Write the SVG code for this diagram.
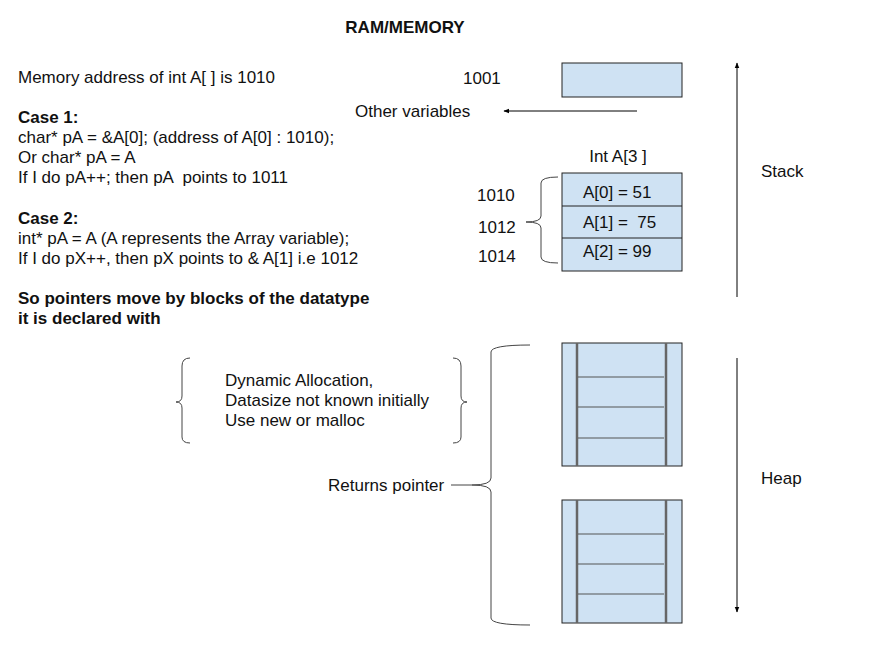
<svg xmlns="http://www.w3.org/2000/svg" width="880" height="660" viewBox="0 0 880 660">
<style>
text{font-family:"Liberation Sans",Arial,sans-serif;font-size:17px;fill:#111;white-space:pre}
.b{font-weight:bold}
.t{font-size:17px;font-weight:bold}
.box{fill:#cfe2f3;stroke:#222;stroke-width:1}
.div{stroke:#222;stroke-width:1}
.gv{stroke:#666;stroke-width:2.5}
.gh{stroke:#555;stroke-width:1.2}
.ln{fill:none;stroke:#000;stroke-width:1}
.br{fill:none;stroke:#444;stroke-width:1}
</style>
<defs>
<marker id="ah" viewBox="0 0 10 10" refX="9" refY="5" markerWidth="6" markerHeight="6" orient="auto">
<path d="M0,1 L10,5 L0,9 z" fill="#000"/>
</marker>
</defs>
<rect width="880" height="660" fill="#fff"/>
<text class="t" x="405" y="33" text-anchor="middle">RAM/MEMORY</text>
<g id="notes">
<text x="18" y="83">Memory address of int A[ ] is 1010</text>
<text x="18" y="123" class="b">Case 1:</text>
<text x="18" y="143">char* pA = &amp;A[0]; (address of A[0] : 1010);</text>
<text x="18" y="163">Or char* pA = A</text>
<text x="18" y="183" xml:space="preserve">If I do pA++; then pA  points to 1011</text>
<text x="18" y="224" class="b">Case 2:</text>
<text x="18" y="244">int* pA = A (A represents the Array variable);</text>
<text x="18" y="264">If I do pX++, then pX points to &amp; A[1] i.e 1012</text>
<text x="18" y="304" class="b">So pointers move by blocks of the datatype</text>
<text x="18" y="324" class="b">it is declared with</text>
</g>
<g id="var1001">
<text x="463" y="84">1001</text>
<rect class="box" x="562" y="63" width="120" height="34"/>
</g>
<g id="other">
<text x="355" y="117">Other variables</text>
</g>
<g id="array">
<text x="618" y="162" text-anchor="middle">Int A[3 ]</text>
<rect class="box" x="562" y="173" width="120" height="98"/>
<line class="div" x1="562" y1="206" x2="682" y2="206"/>
<line class="div" x1="562" y1="238" x2="682" y2="238"/>
<text x="583" y="198">A[0] = 51</text>
<text x="583" y="228" xml:space="preserve">A[1] =  75</text>
<text x="583" y="257">A[2] = 99</text>
<text x="477" y="201">1010</text>
<text x="478" y="233">1012</text>
<text x="478" y="262">1014</text>
</g>
<g id="stack">
<text x="761" y="177">Stack</text>
</g>
<g id="dyn">
<text x="225" y="386">Dynamic Allocation,</text>
<text x="225" y="406">Datasize not known initially</text>
<text x="225" y="426">Use new or malloc</text>
</g>
<g id="heap1">
<rect class="box" x="562" y="343" width="120" height="123"/>
<line class="gv" x1="577" y1="343" x2="577" y2="466"/>
<line class="gv" x1="666" y1="343" x2="666" y2="466"/>
<line class="gh" x1="578" y1="377" x2="664" y2="377"/>
<line class="gh" x1="578" y1="407" x2="664" y2="407"/>
<line class="gh" x1="578" y1="438" x2="664" y2="438"/>
</g>
<g id="heap2">
<rect class="box" x="562" y="500" width="120" height="123"/>
<line class="gv" x1="577" y1="500" x2="577" y2="623"/>
<line class="gv" x1="666" y1="500" x2="666" y2="623"/>
<line class="gh" x1="578" y1="534" x2="664" y2="534"/>
<line class="gh" x1="578" y1="564" x2="664" y2="564"/>
<line class="gh" x1="578" y1="594" x2="664" y2="594"/>
</g>
<g id="heaplabel">
<text x="761" y="484">Heap</text>
</g>
<g id="returns">
<text x="328" y="491">Returns pointer</text>
</g>
<g id="connectors">
<line class="ln" x1="637" y1="111" x2="504" y2="111" marker-end="url(#ah)"/>
<line class="ln" x1="737" y1="297" x2="737" y2="63" marker-end="url(#ah)"/>
<line class="ln" x1="737" y1="358" x2="737" y2="612" marker-end="url(#ah)"/>
<path class="br" d="M558,177 Q541,177 541,183 L541,216 Q541,222 526,222 Q541,222 541,228 L541,257 Q541,263 558,263"/>
<path class="br" d="M190,358 Q182,358 182,366 L182,396 Q182,402 176,402 Q182,402 182,408 L182,437 Q182,443 190,443"/>
<path class="br" d="M453,358 Q461,358 461,366 L461,396 Q461,402 467,402 Q461,402 461,408 L461,437 Q461,443 453,443"/>
<path class="br" d="M530,345 Q491,345 491,352 L491,478 Q491,485 472,485 Q491,485 491,492 L491,618 Q491,625 530,625"/>
<line class="br" x1="451" y1="485" x2="472" y2="485"/>
</g>
</svg>
